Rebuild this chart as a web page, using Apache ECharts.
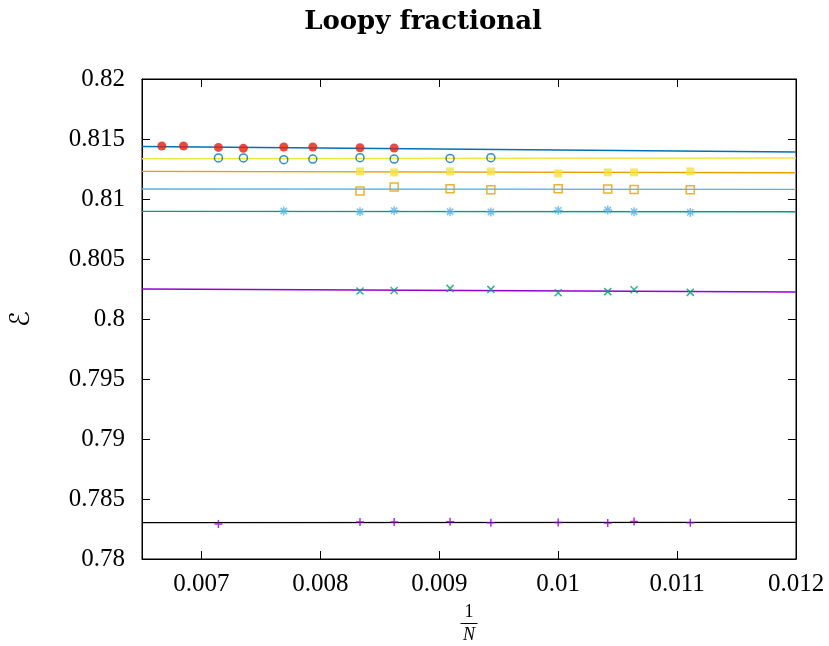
<!DOCTYPE html>
<html>
<head>
<meta charset="utf-8">
<script src="https://cdn.jsdelivr.net/npm/echarts@6/dist/echarts.min.js"></script>
<style>
  html, body { margin: 0; padding: 0; background: #fff; }
  #chart { width: 829px; height: 646px; }
</style>
</head>
<body>
<div id="chart"></div>
<script>
// Lattice sizes N for each data set; x is plotted as 1/N
var nRed = [150, 146, 140, 136, 130, 126, 120, 116];
var eRed = [0.81442, 0.81442, 0.81430, 0.81422, 0.81433, 0.81433, 0.81427, 0.81425];

var nBlue = [140, 136, 130, 126, 120, 116, 110, 106];
var eBlue = [0.81342, 0.81342, 0.81328, 0.81333, 0.81344, 0.81333, 0.81338, 0.81344];

var nYellow = [120, 116, 110, 106, 100, 96, 94, 90];
var eYellow = [0.81230, 0.81222, 0.81230, 0.81230, 0.81213, 0.81222, 0.81222, 0.81230];

var nOrange = [120, 116, 110, 106, 100, 96, 94, 90];
var eOrange = [0.81067, 0.81100, 0.81086, 0.81078, 0.81086, 0.81083, 0.81080, 0.81078];

var nSky = [130, 120, 116, 110, 106, 100, 96, 94, 90];
var eSky = [0.80900, 0.80894, 0.80903, 0.80894, 0.80892, 0.80905, 0.80908, 0.80894, 0.80888];

var nGreen = [120, 116, 110, 106, 100, 96, 94, 90];
var eGreen = [0.80233, 0.80238, 0.80255, 0.80247, 0.80219, 0.80228, 0.80244, 0.80222];

var nPurple = [140, 120, 116, 110, 106, 100, 96, 94, 90];
var ePurple = [0.78292, 0.78308, 0.78308, 0.78311, 0.78303, 0.78305, 0.78300, 0.78313, 0.78303];

// Fitted extrapolation lines: value at the left and right end of the x range
var fitX = [0.0065, 0.012];
var fitRed = [0.81438, 0.81392];
var fitBlue = [0.81336, 0.81342];
var fitYellow = [0.81230, 0.81219];
var fitOrange = [0.81083, 0.81080];
var fitSky = [0.80897, 0.80894];
var fitGreen = [0.80250, 0.80225];
var fitPurple = [0.78303, 0.78305];

// Tick positions / labels
var xTicks = [0.007, 0.008, 0.009, 0.01, 0.011, 0.012];
var yTicks = [0.78, 0.785, 0.79, 0.795, 0.8, 0.805, 0.81, 0.815, 0.82];

var C = {
  purple: '#9400d3', green: '#009e73', sky: '#56b4e9', orange: '#e69f00',
  yellow: '#f0e442', blue: '#0072b2', red: '#e51e10', black: '#000000'
};

var SYM_X = 'path://M0,0L10,10M10,0L0,10';
var SYM_PLUS = 'path://M5,0L5,10M0,5L10,5';
var SYM_STAR = 'path://M5,0L5,10M0,5L10,5M1.5,1.5L8.5,8.5M8.5,1.5L1.5,8.5';

function pts(ns, es) {
  return ns.map(function (n, i) { return [1 / n, es[i]]; });
}
function fitData(vals) {
  return fitX.map(function (x, i) { return [x, vals[i]]; });
}
function fitSeries(vals, color) {
  return {
    type: 'line', data: fitData(vals), symbol: 'none', silent: true, z: 2,
    lineStyle: { color: color, width: 1.4 }, animation: false
  };
}
function scatter(ns, es, opts) {
  return Object.assign({
    type: 'scatter', data: pts(ns, es), z: 3, silent: true, animation: false
  }, opts);
}
function fmt(v) { return String(+v.toFixed(4)); }

var serif = '"Liberation Serif", "DejaVu Serif", serif';

var chart = echarts.init(document.getElementById('chart'), null, { renderer: 'canvas' });
chart.setOption({
  backgroundColor: '#ffffff',
  animation: false,
  title: {
    text: 'Loopy fractional',
    left: 418, top: 4, textAlign: 'center',
    textStyle: { fontFamily: '"DejaVu Serif", serif', fontWeight: 'bold', fontSize: 26, color: '#000' }
  },
  grid: {
    left: 142, right: 33, top: 79, bottom: 87, containLabel: false, outerBoundsMode: 'none',
    show: true, borderColor: '#000', borderWidth: 1
  },
  xAxis: [{
    type: 'value', min: 0.0065, max: 0.012,
    name: '{n|1}\n{bar|}\n{d|N}', nameLocation: 'middle', nameGap: 44,
    nameTextStyle: {
      rich: {
        n: { fontFamily: serif, fontSize: 18, color: '#000', lineHeight: 18, align: 'center' },
        bar: { width: 17, height: 1, backgroundColor: '#000', lineHeight: 5, align: 'center' },
        d: { fontFamily: serif, fontStyle: 'italic', fontSize: 18, color: '#000', lineHeight: 18, align: 'center' }
      }
    },
    axisLine: { show: true, lineStyle: { color: '#000', width: 1 } },
    axisTick: { show: true, inside: true, length: 8, lineStyle: { color: '#000' }, customValues: xTicks },
    axisLabel: { customValues: xTicks, formatter: fmt, fontFamily: serif, fontSize: 25, color: '#000', margin: 13 },
    splitLine: { show: false }
  }, {
    type: 'value', min: 0.0065, max: 0.012, position: 'top',
    axisLine: { show: true, lineStyle: { color: '#000', width: 1 } },
    axisTick: { show: true, inside: true, length: 8, lineStyle: { color: '#000' }, customValues: xTicks },
    axisLabel: { show: false },
    splitLine: { show: false }
  }],
  yAxis: [{
    type: 'value', min: 0.78, max: 0.82,
    name: 'ℰ', nameLocation: 'middle', nameRotate: 90, nameGap: 107,
    nameTextStyle: { fontFamily: '"DejaVu Serif", "DejaVu Sans", serif', fontSize: 27, color: '#000' },
    axisLine: { show: true, lineStyle: { color: '#000', width: 1 } },
    axisTick: { show: true, inside: true, length: 8, lineStyle: { color: '#000' }, customValues: yTicks },
    axisLabel: { customValues: yTicks, formatter: fmt, fontFamily: serif, fontSize: 25, color: '#000', margin: 17 },
    splitLine: { show: false }
  }, {
    type: 'value', min: 0.78, max: 0.82, position: 'right',
    axisLine: { show: true, lineStyle: { color: '#000', width: 1 } },
    axisTick: { show: true, inside: true, length: 8, lineStyle: { color: '#000' }, customValues: yTicks },
    axisLabel: { show: false },
    splitLine: { show: false }
  }],
  series: [
    fitSeries(fitRed, C.blue),
    fitSeries(fitBlue, C.yellow),
    fitSeries(fitYellow, C.orange),
    fitSeries(fitOrange, C.sky),
    fitSeries(fitSky, C.green),
    fitSeries(fitGreen, C.purple),
    fitSeries(fitPurple, C.black),
    scatter(nRed, eRed, { symbol: 'circle', symbolSize: 9, itemStyle: { color: C.red } }),
    scatter(nBlue, eBlue, { symbol: 'circle', symbolSize: 8,
      itemStyle: { color: 'rgba(0,0,0,0)', borderColor: C.blue, borderWidth: 1.5 } }),
    scatter(nYellow, eYellow, { symbol: 'rect', symbolSize: 8, itemStyle: { color: C.yellow } }),
    scatter(nOrange, eOrange, { symbol: 'rect', symbolSize: 8,
      itemStyle: { color: 'rgba(0,0,0,0)', borderColor: C.orange, borderWidth: 1.5 } }),
    scatter(nSky, eSky, { symbol: SYM_STAR, symbolSize: 9,
      itemStyle: { color: C.sky, borderColor: C.sky, borderWidth: 1.5 } }),
    scatter(nGreen, eGreen, { symbol: SYM_X, symbolSize: 7,
      itemStyle: { color: C.green, borderColor: C.green, borderWidth: 1.5 } }),
    scatter(nPurple, ePurple, { symbol: SYM_PLUS, symbolSize: 8,
      itemStyle: { color: C.purple, borderColor: C.purple, borderWidth: 1.5 } })
  ]
});
</script>
</body>
</html>
